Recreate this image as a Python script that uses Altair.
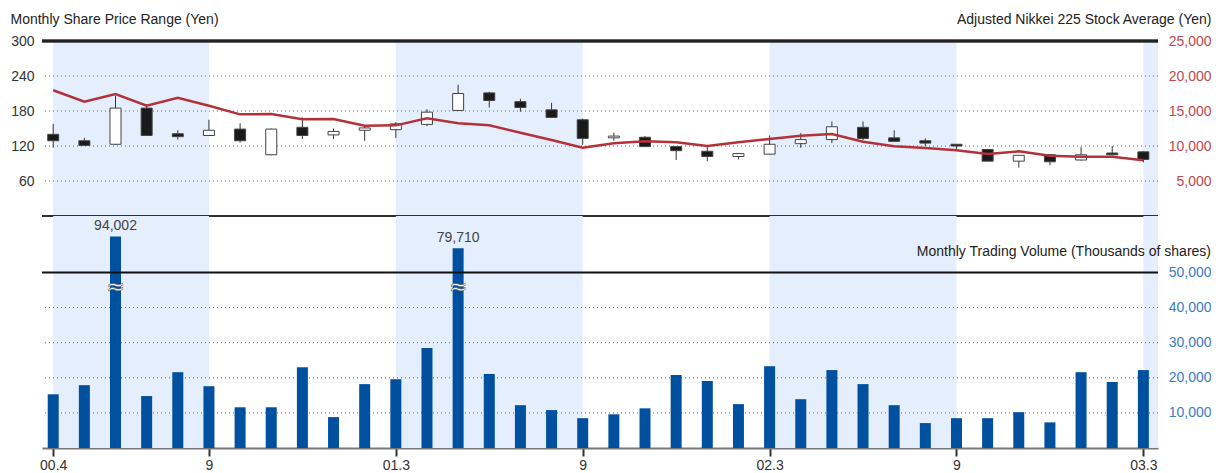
import altair as alt
import pandas as pd

# ---------------- data ----------------
months = list(range(36))
tick_months = [0, 5, 11, 17, 23, 29, 35]
tick_labels = ["00.4", "9", "01.3", "9", "02.3", "9", "03.3"]

open_p = [140, 129, 123, 185, 141, 138, 149, 105, 152, 139, 147, 148, 157, 181, 211, 196, 182, 165,
          134, 135, 119, 111, 102, 106, 124, 131, 152, 134, 129, 123, 114, 94, 105, 96, 108, 110]
close_p = [129, 121, 185, 138, 136, 147, 129, 149, 138, 145, 151, 158, 178, 210, 198, 186, 169, 133,
           137, 119, 112, 102, 107, 123, 131, 153, 133, 128, 125, 120, 94, 104, 93, 105, 105, 97]
high_p = [158, 134, 206, 192, 147, 165, 159, 150, 169, 150, 155, 161, 183, 225, 213, 201, 194, 167,
          143, 137, 119, 118, 108, 138, 142, 162, 162, 147, 133, 123, 115, 104, 106, 118, 120, 111]
low_p = [117, 120, 122, 137, 131, 137, 126, 104, 132, 132, 129, 134, 154, 180, 186, 179, 168, 122,
         129, 119, 96, 94, 97, 106, 117, 125, 130, 128, 120, 112, 94, 83, 87, 95, 104, 92]
nikkei = [17970, 16330, 17430, 15760, 16900, 15750, 14520, 14570, 13810, 13860, 12900, 12950,
          13950, 13240, 12950, 11900, 10860, 9760, 10380, 10670, 10520, 10000, 10520, 11000,
          11470, 11710, 10620, 9950, 9710, 9380, 8860, 9240, 8620, 8470, 8470, 7960]
volume = [15300, 17900, 94002, 14800, 21600, 17600, 11600, 11600, 23000, 8800, 18200, 19600,
          28500, 79710, 21100, 12200, 10800, 8500, 9600, 11300, 20800, 19100, 12500, 23300,
          13900, 22200, 18200, 12200, 7100, 8500, 8500, 10200, 7300, 21600, 18800, 22200]

band_start = [0, 11, 23, 35]
band_end = [5, 17, 29, 35.47]

price_grid = [60, 120, 180, 240]
price_ticks = [60, 120, 180, 240, 300]
nikkei_ticks = [5000, 10000, 15000, 20000, 25000]
vol_grid = [10000, 20000, 30000, 40000]
vol_ticks = [10000, 20000, 30000, 40000, 50000]
vol_break = 50000
big_months = [2, 13]
big_labels = ["94,002", "79,710"]

title_price = "Monthly Share Price Range (Yen)"
title_nikkei = "Adjusted Nikkei 225 Stock Average (Yen)"
title_volume = "Monthly Trading Volume (Thousands of shares)"

# ---------------- frames ----------------
candles = pd.DataFrame({"m": months, "open": open_p, "close": close_p,
                        "high": high_p, "low": low_p, "nikkei": nikkei, "vol": volume})
candles["up"] = candles["close"] >= candles["open"]
bands = pd.DataFrame({"s": band_start, "e": band_end})
pgrid = pd.DataFrame({"g": price_grid})
vgrid = pd.DataFrame({"g": vol_grid})
vline = pd.DataFrame({"g": [vol_break]})
big = pd.DataFrame({"m": big_months, "vol": [volume[i] for i in big_months], "lab": big_labels,
                    "brk": [46000, 46000]})
vtitle = pd.DataFrame({"t": [title_volume]})

W = 1116
H_TOP = 175
H_BOT = 232
RPAD = 53
FONT = "Liberation Sans"
XDOM = [-0.36, 35.47]
xs = alt.Scale(domain=XDOM, nice=False, zero=False, padding=0)
band_col = "#E4EEFC"
text_col = "#333333"

label_expr = "".join(f"datum.value=={m}?'{l}':" for m, l in zip(tick_months, tick_labels)) + "''"

# ---------------- top panel ----------------
pscale = alt.Scale(domain=[0, 300], nice=False, zero=False)
nscale = alt.Scale(domain=[0, 25000], nice=False, zero=False)

t_bands = alt.Chart(bands).mark_rect(color=band_col).encode(
    x=alt.X("s:Q", scale=xs, axis=None), x2="e:Q",
    y=alt.value(0), y2=alt.value(H_TOP))

t_grid = alt.Chart(pgrid).mark_rule(color="#666", strokeDash=[1, 3], strokeWidth=1).encode(
    y=alt.Y("g:Q", scale=pscale,
            axis=alt.Axis(values=price_ticks, ticks=False, domain=False, grid=False,
                          labelPadding=8, labelFontSize=14, labelColor=text_col, labelFont=FONT,
                          labelFlush=False,
                          title=title_price, titleAngle=0, titleAlign="left", titleX=-32,
                          titleY=-22, titleBaseline="middle", titleFontWeight="normal",
                          titleFontSize=14, titleFont=FONT, titleColor="#222")))

t_wick = alt.Chart(candles).mark_rule(color="#333", strokeWidth=1).encode(
    x=alt.X("m:Q", scale=xs, axis=None),
    y=alt.Y("low:Q", scale=pscale, axis=None), y2="high:Q")

t_body = alt.Chart(candles).mark_bar(width=11, stroke="#444", strokeWidth=1).encode(
    x=alt.X("m:Q", scale=xs, axis=None),
    y=alt.Y("open:Q", scale=pscale, axis=None), y2="close:Q",
    fill=alt.condition("datum.up", alt.value("white"), alt.value("#1a1a1a")))

t_top = alt.Chart(bands).mark_rule(color="#222", strokeWidth=2.5).encode(
    y=alt.value(0), x=alt.value(0), x2=alt.value(W))
t_bottom = alt.Chart(bands).mark_rule(color="#222", strokeWidth=1).encode(
    y=alt.value(H_TOP), x=alt.value(0), x2=alt.value(W))

t_line = alt.Chart(candles).mark_line(color="#B3323A", strokeWidth=2.5).encode(
    x=alt.X("m:Q", scale=xs, axis=None),
    y=alt.Y("nikkei:Q", scale=nscale,
            axis=alt.Axis(orient="right", values=nikkei_ticks, format=",d", ticks=False,
                          domain=False, grid=False, labelAlign="right", labelPadding=RPAD,
                          labelFontSize=14, labelColor="#C0474C", labelFont=FONT, labelFlush=False,
                          title=title_nikkei, titleAngle=0, titleAlign="right", titleX=RPAD,
                          titleY=-22, titleBaseline="middle", titleFontWeight="normal",
                          titleFontSize=14, titleFont=FONT, titleColor="#222")))

top = alt.layer(t_bands, t_grid, t_wick, t_body, t_top, t_bottom, t_line).resolve_scale(
    x="independent", y="independent").properties(width=W, height=H_TOP)

# ---------------- bottom panel ----------------
vscale = alt.Scale(domain=[0, 50000, 119000], range=[H_BOT, 56.5, 0], nice=False, zero=False)

b_bands = alt.Chart(bands).mark_rect(color=band_col).encode(
    x=alt.X("s:Q", scale=xs, axis=None), x2="e:Q",
    y=alt.value(0), y2=alt.value(H_BOT))

b_grid = alt.Chart(vgrid).mark_rule(color="#666", strokeDash=[1, 3], strokeWidth=1).encode(
    y=alt.Y("g:Q", scale=vscale, axis=None))

b_bars = alt.Chart(candles).mark_bar(width=11, color="#0050A0").encode(
    x=alt.X("m:Q", scale=xs,
            axis=alt.Axis(values=tick_months, labelExpr=label_expr, tickSize=8, tickColor="#333",
                          tickWidth=2, domain=True, domainColor="#777", domainWidth=2,
                          labelPadding=2, labelFontSize=14, labelColor=text_col, labelFont=FONT,
                          labelFlush=False, grid=False, title=None)),
    y=alt.Y("vol:Q", scale=vscale,
            axis=alt.Axis(orient="right", values=vol_ticks, format=",d", ticks=False,
                          domain=False, grid=False, labelAlign="right", labelPadding=RPAD,
                          labelFontSize=14, labelColor="#3B7BC4", labelFont=FONT,
                          labelFlush=False, title=None)))

b_line = alt.Chart(vline).mark_rule(color="#111", strokeWidth=2).encode(
    y=alt.Y("g:Q", scale=vscale, axis=None))

b_lab = alt.Chart(big).mark_text(baseline="bottom", dy=-3, fontSize=14, font=FONT,
                                 color="#444").encode(
    x=alt.X("m:Q", scale=xs, axis=None), y=alt.Y("vol:Q", scale=vscale, axis=None),
    text="lab:N")

b_brk = alt.Chart(big).mark_text(text="≈", fontSize=22, font="DejaVu Sans", color="white",
                                 stroke="#666", strokeWidth=0.6, baseline="middle").encode(
    x=alt.X("m:Q", scale=xs, axis=None), y=alt.Y("brk:Q", scale=vscale, axis=None))

b_title = alt.Chart(vtitle).mark_text(align="right", baseline="middle", fontSize=14, font=FONT,
                                      color="#222").encode(
    x=alt.value(W + RPAD), y=alt.value(36), text="t:N")

bottom = alt.layer(b_bands, b_grid, b_bars, b_line, b_lab, b_brk, b_title).resolve_scale(
    x="independent", y="independent").properties(width=W, height=H_BOT)

chart = alt.vconcat(top, bottom, spacing=0, bounds="flush").properties(
    padding={"left": 2, "top": 4, "right": 0, "bottom": 0},
    background="white",
).configure_view(stroke=None, strokeWidth=0)

chart.save("out.html", embed_options={"renderer": "svg", "actions": False})
